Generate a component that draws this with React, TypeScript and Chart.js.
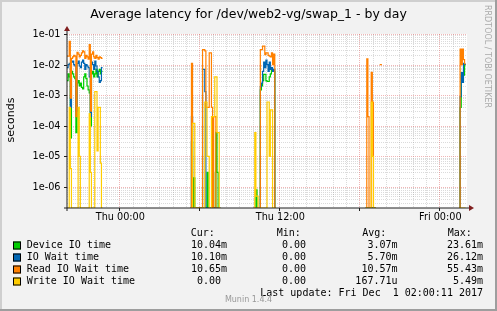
import React, { useEffect, useRef } from 'react';
import { Chart, registerables } from 'chart.js';

Chart.register(...registerables);

// ---------- text ----------
const TITLE = 'Average latency for /dev/web2-vg/swap_1 - by day';
const Y_AXIS_LABEL = 'seconds';
const WATERMARK = 'RRDTOOL / TOBI OETIKER';
const VERSION_TEXT = 'Munin 1.4.4';
const LAST_UPDATE = 'Last update: Fri Dec  1 02:00:11 2017';

// ---------- axes ----------
// x is measured in hours since Wed 20:00 (30 hour window)
const X_MIN_H = 0;
const X_MAX_H = 30;
const X_LABEL_HOURS = [4, 16, 28];
const X_LABELS = ['Thu 00:00', 'Thu 12:00', 'Fri 00:00'];
const X_MAJOR_GRID_HOURS = [4, 10, 16, 22, 28];
const Y_MIN = 2.06e-7;
const Y_MAX = 0.1;
const Y_LABEL_VALUES = [1e-1, 1e-2, 1e-3, 1e-4, 1e-5, 1e-6];
const Y_LABELS = ['1e-01', '1e-02', '1e-03', '1e-04', '1e-05', '1e-06'];

// ---------- series ----------
const SERIES_LABELS = ['Device IO time', 'IO Wait time', 'Read IO Wait time', 'Write IO Wait time'];
const SERIES_COLORS = ['#00CC00', '#0066B3', '#FF8000', '#FFCC00'];
const CUR = ['10.04m', '10.10m', '10.65m', '0.00 '];
const MIN = ['0.00 ', '0.00 ', '0.00 ', '0.00 '];
const AVG = ['3.07m', '5.70m', '10.57m', '167.71u'];
const MAX = ['23.61m', '26.12m', '55.43m', '5.49m'];

// 5-minute samples, grouped in runs of data separated by gaps without data
const STEP_H = 1 / 12;
const RUN_STARTS = [0, 9.25, 14.0, 22.4, 23.45, 29.4];

const DEVICE_IO = [
  [0.003, 0.005, 0.004, 0.00004, 0.006, 0.005, 0.004, 0.0035, 0.00006, 0.0025, 0.003, 0.002, 0.0025, 0.0018, 0.0016, 0.004,
   0.005, 0.0035, 0.002, 0.0015, 0.0012, 0.0001, 0.005, 0.006, 0.004, 0.005, 0.007, 0.004, 0.006, 0.007, 0.005, 0.006],
  [0, 0.00003, 0, 0.000002, 0, 0, 0, 0, 0, 0, 0, 0, 0, 0, 0, 0.000003, 0, 0, 0, 0, 0.000003, 0, 0, 0.00006, 0.000003, 0, 0],
  [0, 0, 8e-7, 0, 0, 0, 0.0015, 0.002, 0.003, 0.0048, 0.0048, 0.003, 0.0028, 0.0028, 0.004, 0.005, 0.0065, 0.0065, 0.006, 0],
  [0, 0, 0, 0, 0, 0, 0, 0, 0],
  [null, null],
  [0, 0.0004, 0.0045, 0.0026, 0.0045, 0.01004],
];

const IO_WAIT = [
  [0.008, 0.01, 0.011, 0.0004, 0.012, 0.013, 0.01, 0.009, 0.0003, 0.011, 0.013, 0.009, 0.008, 0.012, 0.014, 0.011,
   0.007, 0.01, 0.009, 0.008, 0.004, 0.0002, 0.012, 0.01, 0.007, 0.013, 0.009, 0.006, 0.004, 0.0026, 0.003, 0.008],
  [0, 0.0002, 0, 0, 0, 0, 0, 0, 0, 0, 0, 0.007, 0.007, 0.0013, 0, 0, 0, 0, 0, 0, 0, 0, 0, 0, 0, 0, 0],
  [0, 0, 0, 0, 0, 0, 0.0019, 0.0025, 0.006, 0.012, 0.008, 0.014, 0.01, 0.006, 0.012, 0.007, 0.008, 0.006, 0.007, 0],
  [0, 0, 0, 0, 0, 0, 0, 0, 0],
  [null, null],
  [0, 0.0009, 0.0055, 0.0026, 0.011, 0.0101],
];

const READ_IO_WAIT = [
  [0.019, 0.019, 0.058, 0.0008, 0.016, 0.018, 0.02, 0.019, 0.0002, 0.025, 0.022, 0.018, 0.02, 0.024, 0.028, 0.026,
   0.016, 0.02, 0.018, 0.015, 0.045, 0.0003, 0.022, 0.026, 0.018, 0.016, 0.02, 0.017, 0.015, 0.018, 0.017, 0.016],
  [0, 0.011, 0, 0, 0, 0, 0, 0, 0, 0, 0, 0.031, 0.031, 0.028, 0.0004, 0.0004, 0.0004, 0.024, 0.024, 0.0004, 0, 0.0002, 0.0002, 0, 0, 0, 0],
  [0, 0, 0, 0, 0, 0, 0.031, 0.031, 0.04, 0.04, 0.021, 0.024, 0.024, 0.02, 0.019, 0.018, 0.024, 0.01, 0.022, 0],
  [0, 0.0154, 0.0002, 0, 0, 0.0056, 0.0006, 0, 0],
  [0.01, 0.01],
  [0, 0.032, 0.01, 0.032, 0.0146, 0.01065],
];

const WRITE_IO_WAIT = [
  [0, 0, 0.0004, 0.000004, 0, 0, 0, 0, 0, 0, 0.0004, 0.00001, 0, 0, 0, 0,
   0, 0, 0, 0, 0.00025, 0.000003, 0, 0, 0, 0.0013, 0.0013, 0.000015, 0.0004, 0.0004, 0.000006, 0],
  [0, 0, 0.00012, 0.00012, 0, 0, 0, 0, 0, 0, 0, 0, 0, 0.0006, 0.0006, 0.00001, 0.00001, 0, 0, 0.0002, 0.0002, 0.0002, 0.004, 0.004, 0.00006, 0.00006, 0],
  [0, 0.00006, 5e-7, 5e-7, 0, 0, 0, 0, 0, 0, 0, 0, 0.0006, 0.0006, 0.00001, 0.00033, 0.00033, 0, 0, 0],
  [0, 0, 0, 0, 0, 0.0006, 0.00001, 0, 0],
  [null, null],
  [0, 0, 0, 0, 0, 0],
];

const SERIES_RUNS = [DEVICE_IO, IO_WAIT, READ_IO_WAIT, WRITE_IO_WAIT];

const W = 497;
const H = 311;

type Pt = { x: number; y: number | null };

function toY(v: number | null): number | null {
  if (v === null) return null;
  return v <= 0 ? Y_MIN : v; // zero sits on the bottom of the log axis
}

function buildPoints(runs: (number | null)[][]): Pt[] {
  const pts: Pt[] = [];
  runs.forEach((vals, r) => {
    const s = RUN_STARTS[r];
    vals.forEach((v, k) => pts.push({ x: s + k * STEP_H, y: toY(v) }));
    const last = vals[vals.length - 1];
    pts.push({ x: s + vals.length * STEP_H, y: toY(last) });
    pts.push({ x: s + vals.length * STEP_H + 0.001, y: null });
  });
  return pts;
}

const FONT_SANS = '"DejaVu Sans"';
const FONT_MONO = '"DejaVu Sans Mono"';

const muninPlugin = {
  id: 'muninFrame',
  beforeDraw(chart: any) {
    const { ctx, chartArea: a } = chart;
    ctx.save();
    ctx.fillStyle = '#F2F2F2';
    ctx.fillRect(0, 0, W, H);
    ctx.fillStyle = '#CFCFCF';
    ctx.fillRect(0, 0, W, 2);
    ctx.fillRect(0, 0, 2, H);
    ctx.fillStyle = '#9E9E9E';
    ctx.fillRect(0, H - 2, W, 2);
    ctx.fillRect(W - 2, 0, 2, H);
    ctx.fillStyle = '#FFFFFF';
    ctx.fillRect(a.left, a.top, a.right - a.left, a.bottom - a.top);
    ctx.restore();
  },
  beforeDatasetsDraw(chart: any) {
    const { ctx, chartArea: a, scales } = chart;
    const xs = scales.x;
    const ys = scales.y;
    ctx.save();
    ctx.lineWidth = 1;
    ctx.setLineDash([1, 1]);
    // minor horizontal
    ctx.strokeStyle = 'rgba(143,143,143,0.32)';
    for (let e = -7; e <= -2; e++) {
      for (let m = 2; m <= 9; m++) {
        const v = m * Math.pow(10, e);
        if (v <= Y_MIN || v >= Y_MAX) continue;
        const py = Math.round(ys.getPixelForValue(v)) + 0.5;
        ctx.beginPath();
        ctx.moveTo(a.left, py);
        ctx.lineTo(a.right, py);
        ctx.stroke();
      }
    }
    // minor vertical
    for (let hh = X_MIN_H + 1; hh < X_MAX_H; hh++) {
      if (X_MAJOR_GRID_HOURS.includes(hh)) continue;
      const px = Math.round(xs.getPixelForValue(hh)) - 0.5;
      ctx.beginPath();
      ctx.moveTo(px, a.top);
      ctx.lineTo(px, a.bottom);
      ctx.stroke();
    }
    // major
    ctx.strokeStyle = 'rgba(222,80,80,0.42)';
    Y_LABEL_VALUES.forEach((v) => {
      const py = Math.round(ys.getPixelForValue(v)) + 0.5;
      ctx.beginPath();
      ctx.moveTo(a.left, py);
      ctx.lineTo(a.right, py);
      ctx.stroke();
    });
    X_MAJOR_GRID_HOURS.forEach((hh) => {
      const px = Math.round(xs.getPixelForValue(hh)) - 0.5;
      ctx.beginPath();
      ctx.moveTo(px, a.top);
      ctx.lineTo(px, a.bottom);
      ctx.stroke();
    });
    ctx.restore();
  },
  afterDatasetsDraw(chart: any) {
    const { ctx, chartArea: a, scales } = chart;
    const xs = scales.x;
    const ys = scales.y;
    ctx.save();
    ctx.setLineDash([]);
    // axes
    ctx.strokeStyle = '#1F1F1F';
    ctx.lineWidth = 1;
    ctx.beginPath();
    ctx.moveTo(a.left, a.bottom + 3);
    ctx.lineTo(a.left, a.top - 3);
    ctx.moveTo(a.left - 3, a.bottom);
    ctx.lineTo(a.right + 2, a.bottom);
    ctx.stroke();
    // ticks
    ctx.beginPath();
    Y_LABEL_VALUES.forEach((v) => {
      const py = Math.round(ys.getPixelForValue(v)) + 0.5;
      ctx.moveTo(a.left - 3, py);
      ctx.lineTo(a.left, py);
    });
    X_MAJOR_GRID_HOURS.forEach((hh) => {
      const px = Math.round(xs.getPixelForValue(hh)) - 0.5;
      ctx.moveTo(px, a.bottom);
      ctx.lineTo(px, a.bottom + 3);
    });
    ctx.stroke();
    // arrows
    ctx.fillStyle = '#801F1F';
    ctx.beginPath();
    ctx.moveTo(a.left, a.top - 8);
    ctx.lineTo(a.left - 3, a.top - 3);
    ctx.lineTo(a.left + 3, a.top - 3);
    ctx.closePath();
    ctx.fill();
    ctx.beginPath();
    ctx.moveTo(a.right + 7, a.bottom);
    ctx.lineTo(a.right + 2, a.bottom - 3);
    ctx.lineTo(a.right + 2, a.bottom + 3);
    ctx.closePath();
    ctx.fill();

    // title
    ctx.fillStyle = '#000000';
    ctx.font = `12.5px ${FONT_SANS}`;
    ctx.textAlign = 'center';
    ctx.textBaseline = 'alphabetic';
    ctx.fillText(TITLE, 248.5, 17.5);

    // y labels
    ctx.font = `9.7px ${FONT_SANS}`;
    ctx.textAlign = 'right';
    ctx.textBaseline = 'middle';
    Y_LABEL_VALUES.forEach((v, i) => {
      ctx.fillText(Y_LABELS[i], 60.5, ys.getPixelForValue(v) + 0.5);
    });
    // x labels
    ctx.textAlign = 'center';
    X_LABEL_HOURS.forEach((hh, i) => {
      ctx.fillText(X_LABELS[i], xs.getPixelForValue(hh), 217);
    });
    // vertical unit label
    ctx.save();
    ctx.font = `11px ${FONT_SANS}`;
    ctx.translate(11, 120);
    ctx.rotate(-Math.PI / 2);
    ctx.textAlign = 'center';
    ctx.textBaseline = 'middle';
    ctx.fillText(Y_AXIS_LABEL, 0, 0);
    ctx.restore();

    // watermark
    ctx.save();
    ctx.font = `8px ${FONT_SANS}`;
    ctx.fillStyle = '#AAAAAA';
    ctx.translate(487, 5);
    ctx.rotate(Math.PI / 2);
    ctx.textAlign = 'left';
    ctx.textBaseline = 'middle';
    ctx.fillText(WATERMARK, 0, 0);
    ctx.restore();

    // legend
    ctx.font = `10px ${FONT_MONO}`;
    ctx.textBaseline = 'middle';
    ctx.fillStyle = '#000000';
    ctx.textAlign = 'left';
    ctx.fillText('Cur:', 190.7, 233.5);
    ctx.fillText('Min:', 276.7, 233.5);
    ctx.fillText('Avg:', 362.3, 233.5);
    ctx.fillText('Max:', 447.7, 233.5);
    SERIES_LABELS.forEach((lab, i) => {
      const cy = 245.5 + i * 12;
      ctx.fillStyle = SERIES_COLORS[i];
      ctx.fillRect(13, cy - 4, 8, 8);
      ctx.strokeStyle = '#000000';
      ctx.strokeRect(13.5, cy - 3.5, 7, 7);
      ctx.fillStyle = '#000000';
      ctx.textAlign = 'left';
      ctx.fillText(lab, 26.7, cy);
      ctx.textAlign = 'right';
      ctx.fillText(CUR[i], 227, cy);
      ctx.fillText(MIN[i], 312, cy);
      ctx.fillText(AVG[i], 397.5, cy);
      ctx.fillText(MAX[i], 483, cy);
    });
    ctx.textAlign = 'right';
    ctx.fillText(LAST_UPDATE, 483, 293.5);

    ctx.font = `8px ${FONT_SANS}`;
    ctx.fillStyle = '#999999';
    ctx.textAlign = 'center';
    ctx.fillText(VERSION_TEXT, 248.5, 300);
    ctx.restore();
  },
};

export default function App() {
  const ref = useRef<HTMLCanvasElement | null>(null);
  useEffect(() => {
    document.body.style.margin = '0';
    if (!ref.current) return;
    const order = [3, 2, 1, 0];
    const chart = new Chart(ref.current, {
      type: 'line',
      data: {
        datasets: SERIES_RUNS.map((runs, i) => ({
          label: SERIES_LABELS[i],
          data: buildPoints(runs) as any,
          borderColor: SERIES_COLORS[i],
          backgroundColor: SERIES_COLORS[i],
          borderWidth: 1.2,
          stepped: true,
          pointRadius: 0,
          fill: false,
          spanGaps: false,
          order: order[i],
        })),
      },
      options: {
        animation: false,
        responsive: false,
        maintainAspectRatio: false,
        events: [],
        layout: { padding: { left: 67, top: 34, right: W - 467, bottom: H - 208 } },
        plugins: {
          legend: { display: false },
          title: { display: false },
          tooltip: { enabled: false },
        },
        scales: {
          x: { type: 'linear', min: X_MIN_H, max: X_MAX_H, display: false },
          y: { type: 'logarithmic', min: Y_MIN, max: Y_MAX, display: false },
        },
      },
      plugins: [muninPlugin],
    });
    return () => chart.destroy();
  }, []);
  return (
    <div style={{ position: 'absolute', left: 0, top: 0, width: W, height: H }}>
      <canvas ref={ref} width={W} height={H} style={{ display: 'block', width: W, height: H }} />
    </div>
  );
}
